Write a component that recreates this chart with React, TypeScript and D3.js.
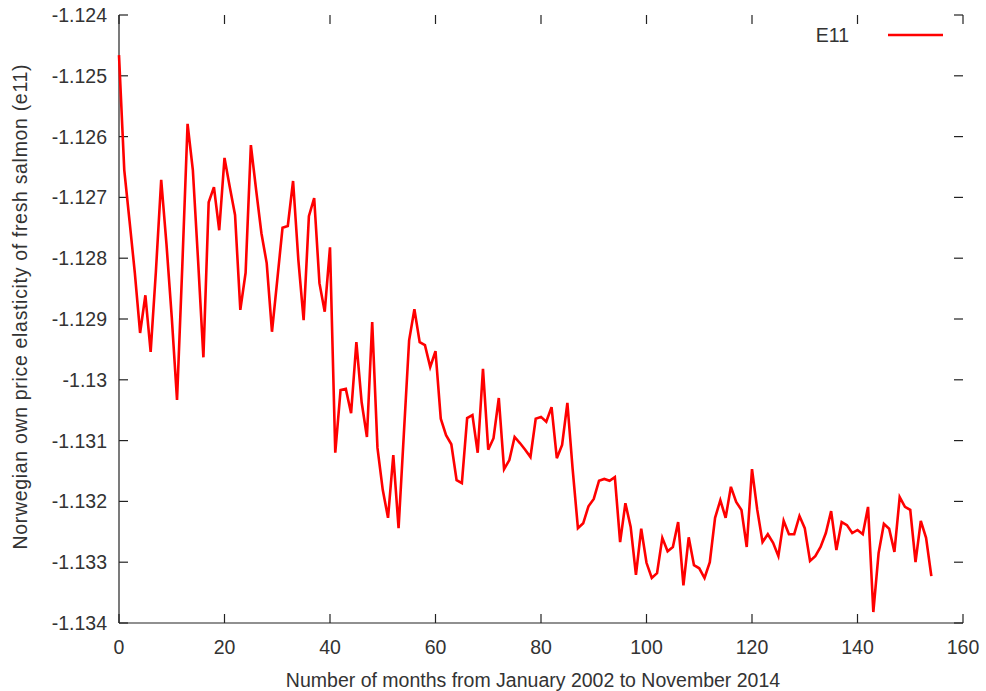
import * as d3 from "d3";
import { useEffect, useRef } from "react";

// months since Jan 2002
const months = d3.range(0, 155);

// own price elasticity
const e11 = [
  -1.12466, -1.12655, -1.12739, -1.12824, -1.12923, -1.12861, -1.12954, -1.12821, -1.12671, -1.12777,
  -1.12897, -1.13033, -1.12813, -1.12579, -1.12655, -1.12805, -1.12963, -1.12708, -1.12683, -1.12754,
  -1.12635, -1.12683, -1.12729, -1.12885, -1.12824, -1.12614, -1.12688, -1.12759, -1.12808, -1.12921,
  -1.12836, -1.1275, -1.12747, -1.12673, -1.12803, -1.12902, -1.12731, -1.12701, -1.12841, -1.12888,
  -1.12782, -1.1312, -1.13017, -1.13015, -1.13055, -1.12938, -1.13037, -1.13094, -1.12905, -1.13112,
  -1.13181, -1.13227, -1.13124, -1.13244, -1.13089, -1.12935, -1.12884, -1.12938, -1.12943, -1.12979,
  -1.12953, -1.13064, -1.13091, -1.13106, -1.13165, -1.1317, -1.13063, -1.13058, -1.1312, -1.12982,
  -1.13115, -1.13096, -1.1303, -1.13147, -1.13132, -1.13094, -1.13104, -1.13115, -1.13127, -1.13064,
  -1.13061, -1.13069, -1.13045, -1.13129, -1.13107, -1.13038, -1.13147, -1.13244, -1.13236, -1.13208,
  -1.13196, -1.13166, -1.13163, -1.13166, -1.1316, -1.13267, -1.13203, -1.13242, -1.13321, -1.13245,
  -1.13301, -1.13326, -1.13318, -1.1326, -1.13282, -1.13275, -1.13234, -1.13338, -1.13259, -1.13305,
  -1.1331, -1.13326, -1.133, -1.13227, -1.13198, -1.13227, -1.13176, -1.13201, -1.13214, -1.13275,
  -1.13147, -1.13214, -1.13267, -1.13254, -1.13268, -1.1329, -1.13232, -1.13254, -1.13254, -1.13224,
  -1.13244, -1.13298, -1.1329, -1.13275, -1.13252, -1.13216, -1.1328, -1.13234, -1.13239, -1.13252,
  -1.13247, -1.13254, -1.13209, -1.13382, -1.13285, -1.13237, -1.13245, -1.13283, -1.13193, -1.13209,
  -1.13214, -1.133, -1.13232, -1.1326, -1.13323,
];

const xTicks = [0, 20, 40, 60, 80, 100, 120, 140, 160];
const yTicks = [-1.124, -1.125, -1.126, -1.127, -1.128, -1.129, -1.13, -1.131, -1.132, -1.133, -1.134];
const yTickLabels = ["-1.124", "-1.125", "-1.126", "-1.127", "-1.128", "-1.129", "-1.13", "-1.131", "-1.132", "-1.133", "-1.134"];

const seriesName = "E11";
const xTitle = "Number of months from January 2002 to November 2014";
const yTitle = "Norwegian own price elasticity of fresh salmon (e11)";

export default function App() {
  const svgRef = useRef<SVGSVGElement>(null);

  useEffect(() => {
    const w = 986;
    const h = 691;
    const m = { left: 119, right: 23, top: 15, bottom: 68 };
    const font = "'Liberation Sans', Arial, sans-serif";
    const ink = "#222";
    const textInk = "#333";
    const fs = 19.5;

    const svg = d3.select(svgRef.current).attr("width", w).attr("height", h);
    svg.selectAll("*").remove();

    const x = d3.scaleLinear().domain([0, 160]).range([m.left, w - m.right]);
    const y = d3.scaleLinear().domain([-1.134, -1.124]).range([h - m.bottom, m.top]);
    const [x0, x1] = x.range();
    const [y0, y1] = y.range();
    const tl = 9;

    const g = svg.append("g").attr("stroke", ink).attr("stroke-width", 1.2);

    // border: left + bottom only
    g.append("line").attr("x1", x0).attr("x2", x0).attr("y1", y1).attr("y2", y0);
    g.append("line").attr("x1", x0).attr("x2", x1).attr("y1", y0).attr("y2", y0);

    // ticks, mirrored on top and right
    xTicks.forEach((t) => {
      g.append("line").attr("x1", x(t)).attr("x2", x(t)).attr("y1", y0).attr("y2", y0 - tl);
      g.append("line").attr("x1", x(t)).attr("x2", x(t)).attr("y1", y1).attr("y2", y1 + tl);
    });
    yTicks.forEach((t) => {
      g.append("line").attr("x1", x0).attr("x2", x0 + tl).attr("y1", y(t)).attr("y2", y(t));
      g.append("line").attr("x1", x1).attr("x2", x1 - tl).attr("y1", y(t)).attr("y2", y(t));
    });

    // tick labels
    svg
      .append("g")
      .selectAll("text")
      .data(xTicks)
      .join("text")
      .attr("x", (d) => x(d))
      .attr("y", y0 + 31)
      .attr("text-anchor", "middle")
      .attr("font-family", font)
      .attr("font-size", fs)
      .attr("fill", textInk)
      .text((d) => String(d));

    svg
      .append("g")
      .selectAll("text")
      .data(yTicks)
      .join("text")
      .attr("x", x0 - 12)
      .attr("y", (d) => y(d) + 7)
      .attr("text-anchor", "end")
      .attr("font-family", font)
      .attr("font-size", fs)
      .attr("fill", textInk)
      .text((d, i) => yTickLabels[i]);

    // axis titles
    svg
      .append("text")
      .attr("x", 533)
      .attr("y", 687)
      .attr("text-anchor", "middle")
      .attr("font-family", font)
      .attr("font-size", fs)
      .attr("fill", textInk)
      .text(xTitle);

    svg
      .append("text")
      .attr("transform", `translate(27, 307) rotate(-90)`)
      .attr("text-anchor", "middle")
      .attr("font-family", font)
      .attr("font-size", fs)
      .attr("textLength", 485)
      .attr("lengthAdjust", "spacing")
      .attr("fill", textInk)
      .text(yTitle);

    // the line
    const line = d3
      .line<number>()
      .x((d, i) => x(months[i]))
      .y((d) => y(d));

    svg
      .append("path")
      .datum(e11)
      .attr("d", line)
      .attr("fill", "none")
      .attr("stroke", "#ff0000")
      .attr("stroke-width", 2.6)
      .attr("stroke-linejoin", "miter");

    // legend
    svg
      .append("text")
      .attr("x", 849)
      .attr("y", 42)
      .attr("text-anchor", "end")
      .attr("font-family", font)
      .attr("font-size", fs)
      .attr("fill", textInk)
      .text(seriesName);
    svg
      .append("line")
      .attr("x1", 888)
      .attr("x2", 943)
      .attr("y1", 35)
      .attr("y2", 35)
      .attr("stroke", "#ff0000")
      .attr("stroke-width", 2.6);
  }, []);

  return (
    <div style={{ position: "absolute", left: 0, top: 0 }}>
      <svg ref={svgRef} style={{ display: "block", background: "#fff" }}></svg>
    </div>
  );
}
